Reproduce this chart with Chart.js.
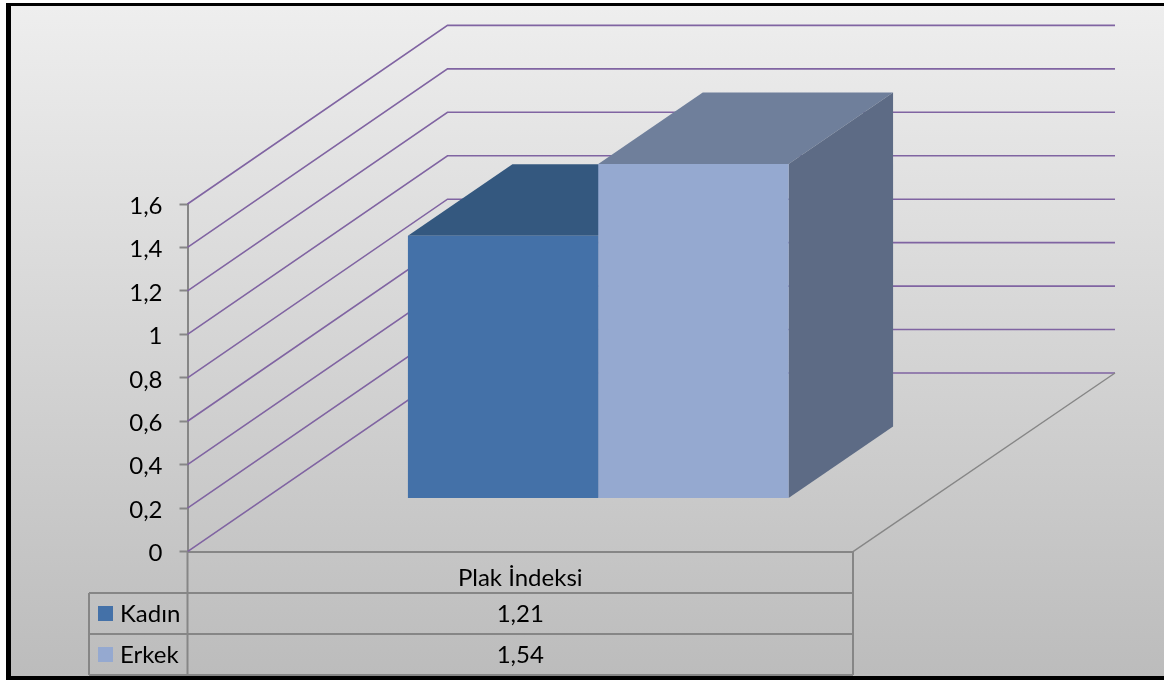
<!DOCTYPE html>
<html>
<head>
<meta charset="utf-8">
<script src="https://cdn.jsdelivr.net/npm/chart.js@4"></script>
<style>
  body { margin: 0; background: #fff; overflow: hidden; }
  #frame {
    position: absolute; left: 6px; top: 3px; width: 1158px; height: 677px; box-sizing: border-box;
    border-left: 5px solid #000; border-top: 3px solid #000; border-bottom: 4px solid #000;
    background: linear-gradient(#eeeeee, #bcbcbc);
  }
  #chart { position: absolute; left: 0; top: 0; }
</style>
</head>
<body>
<div id="frame"></div>
<canvas id="chart" width="1164" height="680"></canvas>
<script>
const categories = ["Plak İndeksi"];
const kadinValues = [1.21];
const erkekValues = [1.54];
const seriesNames = ["Kadın", "Erkek"];
const tableValues = ["1,21", "1,54"];
const yTickLabels = ["0", "0,2", "0,4", "0,6", "0,8", "1", "1,2", "1,4", "1,6"];

const FONT = '"Lato", sans-serif';
const AXIS_GREY = "#868686";
const GRID_PURPLE = "#8064a2";

// how far the back wall and the bars are pushed into the picture
const wallDepth = { x: 260, y: -178.6 };
const barShift = { x: 78, y: -53 };
const barDepth = { x: 104.5, y: -71.5 };

const seriesColors = [
  { front: "#4471a8", top: "#34587f", side: "#2f4f76" },
  { front: "#95a9d0", top: "#6f7f9b", side: "#5d6b85" },
];

function poly(ctx, pts, fill) {
  ctx.beginPath();
  pts.forEach((p, i) => (i ? ctx.lineTo(p[0], p[1]) : ctx.moveTo(p[0], p[1])));
  ctx.closePath();
  ctx.fillStyle = fill;
  ctx.fill();
}

function line(ctx, pts, color, width) {
  ctx.beginPath();
  pts.forEach((p, i) => (i ? ctx.lineTo(p[0], p[1]) : ctx.moveTo(p[0], p[1])));
  ctx.strokeStyle = color;
  ctx.lineWidth = width;
  ctx.stroke();
}

const depthPlugin = {
  id: "depth",
  beforeDatasetsDraw(chart) {
    const { ctx, scales, chartArea } = chart;
    const left = chartArea.left;
    const wallRight = chartArea.right + wallDepth.x + 2;
    ctx.save();
    scales.y.ticks.forEach((tick) => {
      const y = scales.y.getPixelForValue(tick.value);
      line(ctx, [[left, y], [left + wallDepth.x, y + wallDepth.y], [wallRight, y + wallDepth.y]], GRID_PURPLE, 1.6);
    });
    // right edge of the floor
    const y0 = scales.y.getPixelForValue(0);
    line(ctx, [[chartArea.right, y0], [wallRight, y0 + wallDepth.y]], AXIS_GREY, 1.4);
    ctx.restore();
  },
  // the default order paints the first series last, here it has to go first
  beforeDatasetDraw() {
    return false;
  },
  afterDatasetsDraw(chart) {
    const { ctx } = chart;
    chart.data.datasets.forEach((ds, i) => {
      const meta = chart.getDatasetMeta(i);
      const bar = meta.data[0];
      const c = seriesColors[i];
      const l = bar.x - bar.width / 2 + barShift.x;
      const r = bar.x + bar.width / 2 + barShift.x;
      const t = bar.y + barShift.y;
      const b = bar.base + barShift.y;
      ctx.save();
      poly(ctx, [[l, t], [r, t], [r + barDepth.x, t + barDepth.y], [l + barDepth.x, t + barDepth.y]], c.top);
      poly(ctx, [[r, t], [r + barDepth.x, t + barDepth.y], [r + barDepth.x, b + barDepth.y], [r, b]], c.side);
      ctx.translate(barShift.x, barShift.y);
      meta.controller.draw();
      ctx.restore();
    });
  },
  afterDraw(chart) {
    const { ctx, chartArea } = chart;
    const tableLeft = 89;
    const rowTops = [593, 634, 675];
    const left = chartArea.left;
    const right = chartArea.right;
    const mid = (left + right) / 2;
    ctx.save();
    line(ctx, [[left, chartArea.bottom], [left, rowTops[2]]], AXIS_GREY, 2);
    line(ctx, [[right, chartArea.bottom], [right, rowTops[2]]], AXIS_GREY, 2);
    line(ctx, [[tableLeft, rowTops[0]], [tableLeft, rowTops[2]]], AXIS_GREY, 2);
    rowTops.forEach((y) => line(ctx, [[tableLeft, y], [right, y]], AXIS_GREY, 2));
    ctx.font = "24px " + FONT;
    ctx.textBaseline = "middle";
    seriesNames.forEach((name, i) => {
      const cy = (rowTops[i] + rowTops[i + 1]) / 2;
      ctx.fillStyle = seriesColors[i].front;
      ctx.fillRect(98, cy - 7.5, 15, 15);
      ctx.fillStyle = "#000";
      ctx.textAlign = "left";
      ctx.fillText(name, 120, cy + 1);
      ctx.textAlign = "center";
      ctx.fillText(tableValues[i], mid, cy + 1);
    });
    ctx.restore();
  },
};

new Chart(document.getElementById("chart"), {
  type: "bar",
  data: {
    labels: categories,
    datasets: [
      { label: seriesNames[0], data: kadinValues, backgroundColor: seriesColors[0].front },
      { label: seriesNames[1], data: erkekValues, backgroundColor: seriesColors[1].front },
    ],
  },
  options: {
    responsive: false,
    animation: false,
    layout: { padding: { left: 0, right: 311, top: 204, bottom: 0 } },
    categoryPercentage: 0.572,
    barPercentage: 1,
    plugins: { legend: { display: false }, tooltip: { enabled: false } },
    scales: {
      x: {
        grid: { display: false },
        border: { display: true, color: AXIS_GREY, width: 2 },
        ticks: { color: "#000", font: { family: FONT, size: 24 }, padding: 4 },
        afterFit(scale) {
          scale.height = 128.4;
        },
      },
      y: {
        min: 0,
        max: 1.6,
        grid: { drawOnChartArea: false, color: AXIS_GREY, tickLength: 8, tickWidth: 2 },
        border: { display: true, color: AXIS_GREY, width: 2 },
        ticks: {
          stepSize: 0.2,
          color: "#000",
          padding: 17,
          labelOffset: 2,
          font: { family: FONT, size: 24 },
          callback: (value, index) => yTickLabels[index],
        },
        afterFit(scale) {
          scale.width = 187.5;
        },
      },
    },
  },
  plugins: [depthPlugin],
});
</script>
</body>
</html>
